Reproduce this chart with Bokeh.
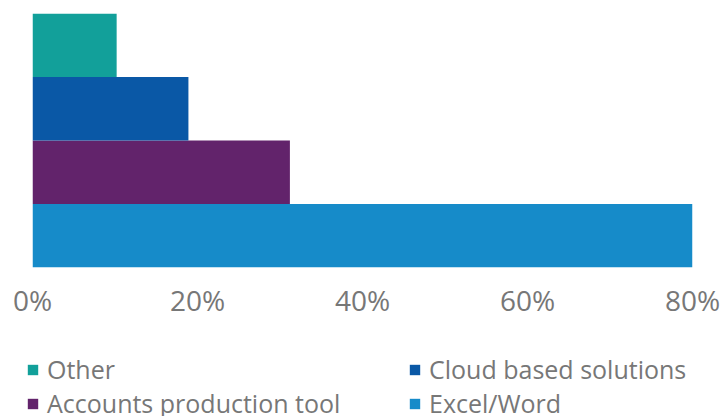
from bokeh.plotting import figure
from bokeh.layouts import column
from bokeh.models import (ColumnDataSource, FactorRange, Range1d, FixedTicker,
                          NumeralTickFormatter, Legend, LegendItem)
from bokeh.embed import file_html
from bokeh.resources import INLINE

categories = ["Excel/Word", "Accounts production tool", "Cloud based solutions", "Other"]
values = [0.802, 0.312, 0.189, 0.102]
colors = ["#168bc9", "#62236b", "#0a58a6", "#12a09a"]
tick_values = [0.0, 0.2, 0.4, 0.6, 0.8]
# column-major legend: first column then second column
legend_order = ["Other", "Accounts production tool", "Cloud based solutions", "Excel/Word"]

FONT = "Open Sans"
TEXT_COLOR = "#777777"

p = figure(width=728, height=330,
           y_range=FactorRange(*categories, range_padding=0),
           x_range=Range1d(0, 0.8), output_backend="svg", toolbar_location=None,
           min_border_left=32, min_border_right=36, min_border_top=13, min_border_bottom=63)

for c, v, col in zip(categories, values, colors):
    s = ColumnDataSource(dict(cat=[c], val=[v]))
    p.hbar(y="cat", right="val", left=0, height=1.0, color=col, line_color=None, source=s)

p.xgrid.visible = False
p.ygrid.visible = False
p.outline_line_color = None
p.yaxis.visible = False

xa = p.xaxis[0]
xa.ticker = FixedTicker(ticks=tick_values)
xa.formatter = NumeralTickFormatter(format="0%")
xa.axis_line_color = None
xa.major_tick_line_color = None
xa.minor_tick_line_color = None
xa.major_tick_out = 0
xa.major_tick_in = 0
xa.major_label_standoff = 13
xa.major_label_text_font = FONT
xa.major_label_text_font_size = "28px"
xa.major_label_text_color = TEXT_COLOR

# legend-only figure below the chart; its bar renderers lie outside its view
p2 = figure(width=728, height=86, output_backend="svg", toolbar_location=None,
            x_axis_type=None, y_axis_type=None,
            x_range=Range1d(10, 11), y_range=Range1d(10, 11),
            min_border_left=0, min_border_right=0, min_border_top=0, min_border_bottom=0)
p2.xgrid.visible = False
p2.ygrid.visible = False
p2.outline_line_color = None

legend_x = 26
try:
    p.frame_align = False
    p2.frame_align = False
except AttributeError:
    legend_x = 0

leg_renderers = {}
for c, v, col in zip(categories, values, colors):
    leg_renderers[c] = p2.hbar(y=[0], right=[v], left=0, height=1.0, color=col, line_color=None)

items = [LegendItem(label=name, renderers=[leg_renderers[name]]) for name in legend_order]
legend = Legend(items=items, ncols=2, location=(legend_x, -4),
                label_text_font=FONT, label_text_font_size="25px",
                label_text_color=TEXT_COLOR, glyph_width=13, glyph_height=13,
                label_standoff=8, spacing=-1, padding=0, margin=0,
                border_line_color=None, background_fill_alpha=0,
                label_width=361)
p2.add_layout(legend, "center")

layout = column(p, p2, spacing=0)
open("out.html", "w").write(file_html(layout, INLINE))
